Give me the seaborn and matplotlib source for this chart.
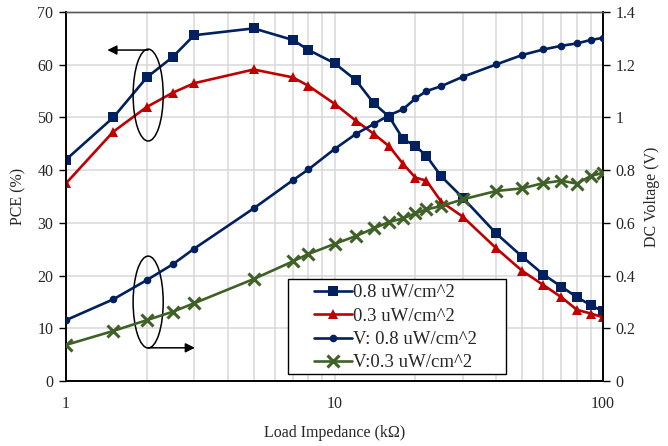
import numpy as np
import pandas as pd
import seaborn as sns
import matplotlib
matplotlib.use("Agg")
import matplotlib.pyplot as plt
from matplotlib.patches import Ellipse, Rectangle
from matplotlib.ticker import LogLocator, NullFormatter, FixedLocator, FixedFormatter

# Load impedance sweep (kOhm)
load_kohm = [1, 1.5, 2, 2.5, 3, 5, 7, 8, 10, 12, 14, 16, 18, 20, 22, 25, 30,
             40, 50, 60, 70, 80, 90, 100]

# Power conversion efficiency (%)
pce_08 = [42.0, 50.0, 57.6, 61.5, 65.6, 66.9, 64.7, 62.8, 60.3, 57.1, 52.7, 50.1,
          45.9, 44.6, 42.7, 38.8, 34.8, 28.0, 23.6, 20.2, 17.9, 15.9, 14.4, 13.2]
pce_03 = [37.5, 47.3, 52.0, 54.7, 56.5, 59.1, 57.6, 56.0, 52.6, 49.4, 46.9, 44.5,
          41.2, 38.6, 38.0, 34.0, 31.2, 25.2, 20.9, 18.2, 15.9, 13.5, 12.8, 12.1]

# DC output voltage (V)
v_08 = [0.231, 0.310, 0.383, 0.443, 0.502, 0.655, 0.762, 0.803, 0.880, 0.937,
        0.975, 1.009, 1.031, 1.072, 1.100, 1.119, 1.154, 1.201, 1.237, 1.258,
        1.272, 1.281, 1.294, 1.302]
v_03 = [0.137, 0.190, 0.231, 0.263, 0.295, 0.387, 0.454, 0.482, 0.520, 0.550,
        0.579, 0.604, 0.617, 0.636, 0.651, 0.664, 0.689, 0.721, 0.731, 0.751,
        0.760, 0.749, 0.778, 0.790]

labels = ["0.8 uW/cm^2", "0.3 uW/cm^2", "V: 0.8 uW/cm^2", "V:0.3 uW/cm^2"]
left_ticks = [0, 10, 20, 30, 40, 50, 60, 70]
right_ticks = [0, 0.2, 0.4, 0.6, 0.8, 1.0, 1.2, 1.4]
right_tick_labels = ["0", "0.2", "0.4", "0.6", "0.8", "1", "1.2", "1.4"]

navy = "#002060"
red = "#C00000"
green = "#3F6026"

sns.set_style("white")
plt.rcParams["font.family"] = ["Liberation Serif", "DejaVu Serif"]
plt.rcParams["font.size"] = 11.5

df = pd.DataFrame({"load": load_kohm, "pce08": pce_08, "pce03": pce_03,
                   "v08": v_08, "v03": v_03})

fig = plt.figure(figsize=(6.68, 4.46), dpi=100)
ax = fig.add_axes([0.0988, 0.1457, 0.8039, 0.8273])
ax2 = ax.twinx()

lw = 1.9
sns.lineplot(data=df, x="load", y="pce08", ax=ax, color=navy, lw=lw,
             marker="s", markersize=7.5, markeredgewidth=0, label=labels[0],
             legend=False, zorder=4)
sns.lineplot(data=df, x="load", y="pce03", ax=ax, color=red, lw=lw,
             marker="^", markersize=7.5, markeredgewidth=0, label=labels[1],
             legend=False, zorder=4)
sns.lineplot(data=df, x="load", y="v08", ax=ax2, color=navy, lw=lw,
             marker="o", markersize=5.5, markeredgewidth=0, label=labels[2],
             legend=False, zorder=4)
sns.lineplot(data=df, x="load", y="v03", ax=ax2, color=green, lw=lw,
             linestyle="-", dashes=False,
             marker="x", markersize=9, markeredgewidth=2.2,
             markeredgecolor=green, label=labels[3], legend=False, zorder=4)

ax.set_xscale("log")
ax.set_xlim(1, 100)
ax.set_ylim(0, 70)
ax2.set_ylim(0, 1.4)

ax.xaxis.set_major_locator(FixedLocator([1, 10, 100]))
ax.xaxis.set_major_formatter(FixedFormatter(["1", "10", "100"]))
ax.xaxis.set_minor_locator(LogLocator(base=10, subs=np.arange(2, 10)))
ax.xaxis.set_minor_formatter(NullFormatter())
ax.set_yticks(left_ticks)
ax2.set_yticks(right_ticks)
ax2.set_yticklabels(right_tick_labels)

# Light grid on both major and minor decades
ax.grid(True, which="major", axis="both", color="#d9d9d9", lw=1.1, zorder=0)
ax.grid(True, which="minor", axis="x", color="#d9d9d9", lw=1.1, zorder=0)
ax.set_axisbelow(True)

ax.tick_params(axis="both", which="major", direction="out", length=5, width=1,
               color="black", labelsize=11.5, pad=4)
ax.tick_params(axis="x", which="minor", direction="out", length=3, width=1,
               color="black")
ax.tick_params(axis="x", which="major", pad=6)
ax2.tick_params(axis="y", direction="out", length=5, width=1, color="black",
                labelsize=11.5, pad=4)

for a in (ax, ax2):
    for side in ("left", "right", "bottom"):
        a.spines[side].set_color("black")
        a.spines[side].set_linewidth(1.2)
    a.spines["top"].set_color("#595959")
    a.spines["top"].set_linewidth(1.0)

ax.set_xlabel("Load Impedance (k\u03a9)", fontsize=11.5, labelpad=9)
ax.set_ylabel("PCE (%)", fontsize=11.5, labelpad=8)
ax2.set_ylabel("DC Voltage (V)", fontsize=11.5, labelpad=6)

# Ellipses with arrows pointing to the matching axis
for cy, y_arrow, x_end in ((0.775, 0.897, 0.077), (0.214, 0.090, 0.240)):
    ax.add_patch(Ellipse((0.153, cy), 0.056, 0.249, transform=ax.transAxes,
                         fill=False, edgecolor="black", lw=1.1, zorder=6))
    ax.annotate("", xy=(x_end, y_arrow), xytext=(0.153, y_arrow),
                xycoords="axes fraction", textcoords="axes fraction",
                arrowprops=dict(arrowstyle="-|>", color="black", lw=1.1,
                                mutation_scale=14, shrinkA=0, shrinkB=0),
                zorder=6)

# Legend box: white panel with black frame, entries placed inside it
ax2.add_patch(Rectangle((0.413, 0.019), 0.406, 0.257, transform=ax2.transAxes,
                        facecolor="white", edgecolor="black", lw=1.0,
                        zorder=9))
h1, l1 = ax.get_legend_handles_labels()
h2, l2 = ax2.get_legend_handles_labels()
leg = ax2.legend(h1 + h2, l1 + l2, loc="upper left",
                 bbox_to_anchor=(0.462, 0.262), fontsize=13.5, frameon=False,
                 handlelength=2.0, handletextpad=0.1, borderpad=0.0,
                 labelspacing=0.33, borderaxespad=0)
leg.set_zorder(10)

fig.savefig("out.png", dpi=100)
